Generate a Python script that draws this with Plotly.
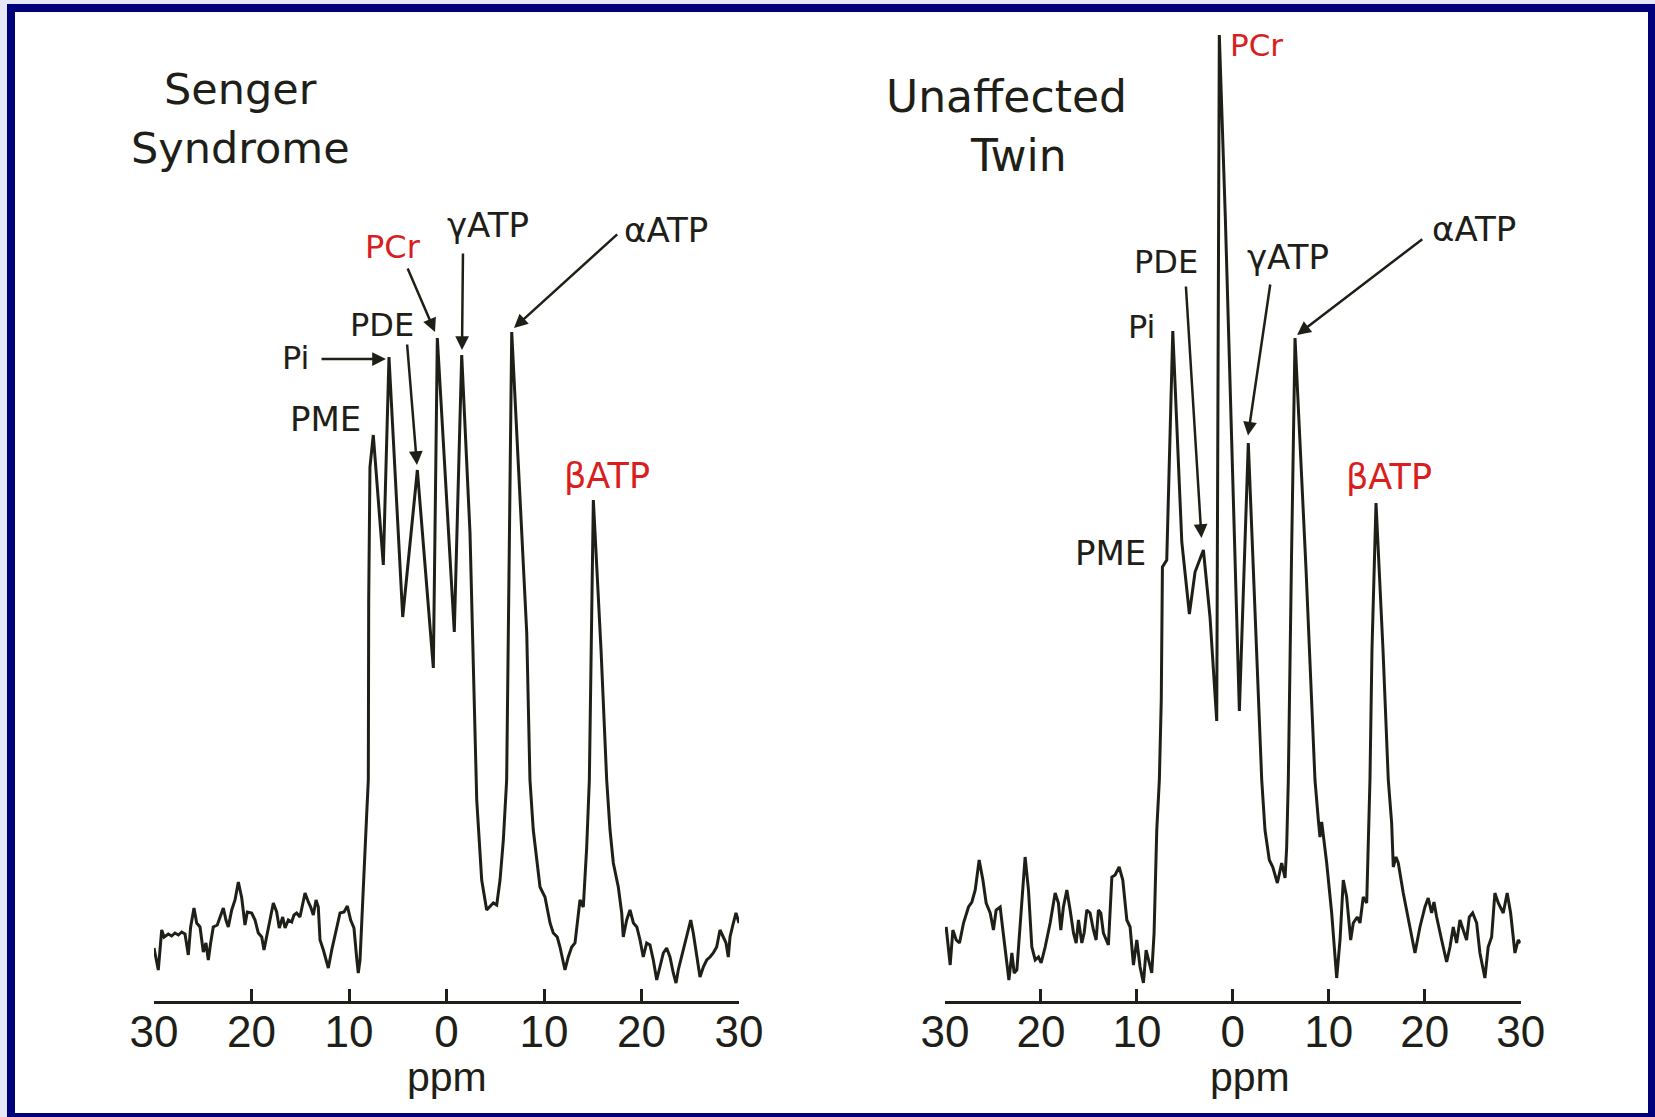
import plotly.graph_objects as go

# ---------------- data ----------------
# chemical shift (ppm, positive to the left) and signal intensity (arbitrary units)
senger_ppm = [30.0, 29.56, 29.21, 28.97, 28.53, 28.19, 27.85, 27.5, 27.16, 26.82, 26.48, 26.24, 25.9, 25.62,
              25.28, 24.94, 24.67, 24.43, 24.19, 23.92, 23.51, 23.16, 22.89, 22.62, 22.38, 22.03, 21.69, 21.35,
              21.0, 20.67, 20.43, 19.98, 19.64, 19.3, 18.95, 18.72, 18.44, 18.1, 17.76, 17.42, 17.15, 16.8,
              16.56, 16.22, 15.88, 15.64, 15.37, 15.03, 14.75, 14.51, 14.17, 13.93, 13.66, 13.38, 13.15, 12.97,
              12.63, 12.12, 11.77, 11.26, 10.92, 10.51, 10.17, 9.83, 9.49, 9.21, 9.05, 8.87, 8.6, 8.36, 8.18,
              8.02, 7.98, 7.85, 7.51, 6.48, 5.90, 4.49, 2.99, 1.35, 0.94, -0.80, -1.56, -2.41, -3.10, -3.61,
              -4.12, -4.80, -5.15, -5.49, -5.83, -6.17, -6.41, -6.69, -8.23, -8.56, -8.90, -9.59, -10.10, -10.62,
              -10.95, -11.36, -11.64, -12.15, -12.49, -12.84, -13.18, -13.52, -13.69, -14.03, -14.38, -14.65,
              -14.77, -15.06, -15.85, -16.43, -16.77, -17.11, -17.62, -17.97, -18.13, -18.48, -18.82, -19.17,
              -19.52, -19.85, -20.18, -20.53, -20.87, -21.21, -21.56, -21.90, -22.24, -22.58, -22.92, -23.26,
              -23.54, -23.77, -24.12, -24.46, -24.80, -25.05, -25.31, -25.66, -26.0, -26.34, -26.69, -27.03,
              -27.36, -27.71, -28.05, -28.39, -28.67, -28.90, -29.08, -29.42, -29.69, -30.0]
senger_int = [5.3, 3.1, 7.1, 6.4, 6.7, 6.5, 6.8, 6.6, 6.9, 6.7, 4.6, 7.4, 9.3, 7.8,
              7.4, 4.9, 5.8, 4.1, 5.8, 7.4, 7.6, 8.6, 9.3, 8.1, 7.4, 9.1, 10.1, 11.9,
              10.3, 7.6, 8.9, 8.8, 8.1, 6.8, 6.4, 5.1, 6.4, 8.1, 9.8, 8.9, 7.3, 8.4,
              7.3, 8.1, 7.9, 8.6, 8.8, 8.4, 9.6, 10.8, 9.9, 9.4, 8.6, 10.1, 9.4, 6.1,
              5.1, 3.3, 5.1, 7.4, 8.8, 8.9, 9.5, 8.1, 7.3, 4.3, 2.8, 4.1, 10.4, 15.4, 18.8,
              22.1, 40.1, 53.4, 56.6, 43.6, 64.4, 38.4, 53.1, 33.3, 66.3, 36.9, 64.6, 46.8, 20.1, 12.1,
              9.1, 9.8, 9.6, 12.1, 16.1, 22.1, 45.1, 66.9, 36.8, 22.1, 17.1, 11.4, 10.4, 7.8,
              6.8, 6.4, 5.4, 3.1, 4.4, 5.4, 5.8, 8.8, 10.1, 9.4, 15.4, 22.1,
              30.1, 50.1, 35.1, 22.1, 17.1, 13.8, 11.4, 8.8, 6.4, 8.1, 9.1, 7.8,
              7.4, 6.1, 4.4, 5.8, 5.6, 4.1, 2.1, 3.4, 4.8, 5.3, 4.4, 2.8,
              1.8, 3.1, 4.4, 5.8, 7.1, 8.1, 6.8, 4.4, 2.4, 3.4, 4.1, 4.4,
              4.8, 5.4, 7.1, 6.4, 5.8, 4.4, 6.4, 7.8, 8.8, 7.8]

twin_ppm = [29.88, 29.46, 29.18, 28.83, 28.49, 28.07, 27.55, 27.20, 26.85, 26.44, 26.05, 25.71, 25.29, 24.95,
            24.67, 24.25, 23.97, 23.63, 23.34, 23.03, 22.79, 22.51, 22.17, 21.65, 21.30, 20.95, 20.60, 20.26,
            19.98, 19.56, 19.04, 18.52, 18.18, 17.93, 17.66, 17.30, 16.96, 16.61, 16.33, 16.09, 15.74, 15.50,
            15.22, 14.88, 14.53, 14.25, 14.01, 13.76, 13.49, 12.97, 12.61, 12.27, 11.85, 11.47, 11.05, 10.71,
            10.36, 10.01, 9.67, 9.32, 9.04, 8.80, 8.45, 8.21, 7.93, 7.66, 7.46, 7.34, 6.89, 6.26, 5.32, 4.53,
            3.94, 3.07, 2.38, 1.68, 1.41, 0.78, -0.09, -0.68, -1.61, -2.49, -3.01, -3.35, -3.80, -4.16, -4.64,
            -5.09, -5.44, -5.61, -5.78, -6.11, -6.48, -7.63, -8.56, -8.91, -9.08, -9.26, -9.78, -10.30, -10.82,
            -11.17, -11.51, -11.86, -12.28, -12.55, -12.97, -13.25, -13.59, -13.95, -14.11, -14.29, -14.50,
            -14.92, -15.65, -16.20, -16.55, -16.72, -17.00, -17.24, -17.76, -18.28, -18.98, -19.50, -20.02,
            -20.36, -20.72, -20.96, -21.24, -21.76, -22.28, -22.63, -22.97, -23.32, -23.67, -24.01, -24.36,
            -24.64, -24.99, -25.41, -25.75, -26.27, -26.61, -26.97, -27.31, -27.66, -28.18, -28.59, -28.95,
            -29.40, -29.74, -30.0]
twin_int = [7.4, 3.6, 7.1, 6.1, 5.8, 7.8, 9.4, 9.9, 11.1, 14.1, 12.1, 9.8, 8.8, 7.1,
            9.1, 9.4, 7.1, 4.1, 2.1, 4.8, 2.8, 3.1, 7.4, 14.4, 11.1, 5.4, 4.1, 4.4,
            3.8, 5.4, 7.8, 10.8, 9.8, 7.1, 9.4, 11.1, 9.1, 6.8, 5.8, 8.1, 5.8, 6.8,
            9.1, 8.8, 7.1, 6.1, 9.1, 8.8, 6.8, 5.6, 12.4, 12.6, 13.4, 12.1, 8.1, 7.4,
            3.6, 6.1, 3.4, 1.8, 5.1, 4.1, 2.8, 6.8, 17.1, 22.1, 30.1, 43.4, 44.1, 67.0, 45.9, 38.7,
            42.9, 45.1, 38.4, 28.0, 96.6, 78.2, 48.4, 29.0, 55.8, 33.4, 22.1, 17.1, 14.1, 13.4, 11.8,
            13.8, 12.3, 15.4, 22.1, 44.1, 66.3, 43.1, 22.1, 18.1, 16.4, 17.9, 13.8, 8.8, 2.3,
            6.1, 12.1, 10.4, 6.1, 7.8, 8.4, 7.8, 10.4, 9.8, 15.4, 22.1, 35.1,
            49.8, 35.1, 22.1, 17.8, 13.4, 14.4, 13.8, 10.8, 8.1, 4.8, 7.4, 9.4,
            10.3, 8.8, 9.9, 8.4, 6.1, 3.9, 5.4, 7.4, 5.8, 8.1, 7.1, 6.1,
            8.4, 8.8, 7.8, 4.8, 2.3, 5.4, 6.4, 10.8, 9.8, 8.8, 10.8, 8.8,
            4.8, 6.1, 5.8]

tick_vals = [30, 20, 10, 0, -10, -20, -30]
tick_text = ["30", "20", "10", "0", "10", "20", "30"]

# ---------------- styling ----------------
W, H = 1655, 1117
INK = "#1e2018"
RED = "#d81e1e"
NAVY = "#00007a"
LAVENDER = "#e6e8f7"
LABEL_FONT = "DejaVu Sans"
TICK_FONT = "Liberation Sans"

fig = go.Figure()
fig.add_trace(go.Scatter(x=senger_ppm, y=senger_int, mode="lines", xaxis="x", yaxis="y",
                         line=dict(color=INK, width=3), showlegend=False, hoverinfo="skip"))
fig.add_trace(go.Scatter(x=twin_ppm, y=twin_int, mode="lines", xaxis="x2", yaxis="y2",
                         line=dict(color=INK, width=3), showlegend=False, hoverinfo="skip"))

y_dom = [(H - 1001) / H, (H - 20) / H]
y_top = (1001 - 20) / 10.0


def xaxis_cfg(domain, anchor):
    return dict(domain=domain, anchor=anchor, range=[30, -30], tickmode="array",
                tickvals=tick_vals, ticktext=tick_text, ticks="inside", ticklen=12, tickwidth=3,
                tickcolor=INK, showline=True, linewidth=3, linecolor=INK, showgrid=False,
                zeroline=False, tickfont=dict(family=TICK_FONT, size=44, color=INK),
                ticklabelstandoff=-10, automargin=False, fixedrange=True)


def yaxis_cfg(anchor):
    return dict(domain=y_dom, anchor=anchor, range=[0, y_top], visible=False,
                automargin=False, fixedrange=True)


annotations = []


def text(xr, yr, x, y, s, size=32, color=INK, family=LABEL_FONT):
    annotations.append(dict(xref=xr, yref=yr, x=x, y=y, text=s, showarrow=False,
                            xanchor="center", yanchor="middle",
                            font=dict(family=family, size=size, color=color)))


def arrow(xr, yr, x, y, ax, ay):
    annotations.append(dict(xref=xr, yref=yr, axref=xr, ayref=yr, x=x, y=y, ax=ax, ay=ay,
                            text="", showarrow=True, arrowhead=2, arrowsize=1.1,
                            arrowwidth=2.5, arrowcolor=INK, standoff=0, startstandoff=0))


# left panel: Senger syndrome
text("x", "y", 21.1, 91.2, "Senger", size=43)
text("x", "y", 21.1, 85.3, "Syndrome", size=43)
text("x", "y", 5.44, 75.4, "PCr", size=32, color=RED)
text("x", "y", -4.26, 77.6, "γATP", size=34)
text("x", "y", -22.5, 77.1, "αATP", size=34)
text("x", "y", 6.62, 67.6, "PDE", size=32)
text("x", "y", 15.44, 64.3, "Pi", size=32)
text("x", "y", 12.46, 58.2, "PME", size=34)
text("x", "y", -16.46, 52.5, "βATP", size=35, color=RED)
arrow("x", "y", 6.21, 64.2, 12.97, 64.2)
arrow("x", "y", 3.03, 53.6, 4.05, 65.8)
arrow("x", "y", 1.18, 66.9, 4.05, 73.4)
arrow("x", "y", -1.59, 65.1, -1.69, 74.9)
arrow("x", "y", -6.92, 67.3, -17.66, 76.8)

# right panel: unaffected twin
text("x2", "y2", 23.54, 90.5, "Unaffected", size=44)
text("x2", "y2", 22.38, 84.6, "Twin", size=44)
text("x2", "y2", -2.42, 95.6, "PCr", size=31, color=RED)
text("x2", "y2", 6.92, 73.9, "PDE", size=32)
text("x2", "y2", -5.72, 74.4, "γATP", size=34)
text("x2", "y2", -25.13, 77.2, "αATP", size=34)
text("x2", "y2", 9.52, 67.4, "Pi", size=32)
text("x2", "y2", 12.79, 44.8, "PME", size=34)
text("x2", "y2", -16.27, 52.4, "βATP", size=35, color=RED)
arrow("x2", "y2", 3.27, 46.3, 4.90, 71.6)
arrow("x2", "y2", -1.58, 56.55, -3.92, 71.8)
arrow("x2", "y2", -6.69, 66.6, -19.9, 76.3)

# axis titles ("ppm") placed below each axis, in paper units
for cx in (447 / W, 1250 / W):
    annotations.append(dict(xref="paper", yref="paper", x=cx, y=1 - 1077 / H, text="ppm",
                            showarrow=False, xanchor="center", yanchor="middle",
                            font=dict(family=TICK_FONT, size=41, color=INK)))

shapes = [
    dict(type="rect", xref="paper", yref="paper", x0=7 / W, x1=1, y0=0, y1=1 - 4 / H,
         fillcolor=NAVY, line=dict(width=0), layer="below"),
    dict(type="rect", xref="paper", yref="paper", x0=15 / W, x1=1648 / W, y0=1 - 1113 / H,
         y1=1 - 12 / H, fillcolor="white", line=dict(width=0), layer="below"),
]

fig.update_layout(
    width=W, height=H, autosize=False,
    margin=dict(l=0, r=0, t=0, b=0, pad=0, autoexpand=False),
    paper_bgcolor=LAVENDER, plot_bgcolor="rgba(0,0,0,0)",
    xaxis=xaxis_cfg([154 / W, 739 / W], "y"),
    yaxis=yaxis_cfg("x"),
    xaxis2=xaxis_cfg([945 / W, 1520.7 / W], "y2"),
    yaxis2=yaxis_cfg("x2"),
    annotations=annotations, shapes=shapes, showlegend=False,
)

fig.write_html("out.html")
